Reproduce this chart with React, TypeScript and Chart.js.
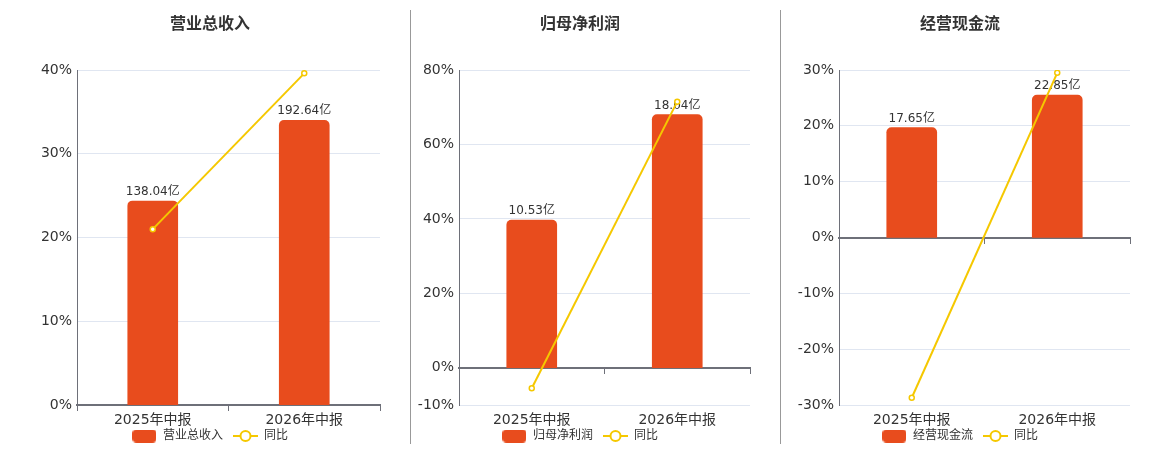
import { useEffect, useRef } from "react"
import { Chart, registerables } from "chart.js"

Chart.register(...registerables)

Chart.defaults.font.family = '"DejaVu Sans", "Noto Sans CJK SC", sans-serif'

// data
const categories = ["2025年中报", "2026年中报"]

const revenueValues = [138.04, 192.64]
const revenueGrowth = [21.0, 39.6]
const revenueTicks = [0, 10, 20, 30, 40]

const profitValues = [10.53, 18.04]
const profitGrowth = [-5.5, 71.5]
const profitTicks = [-10, 0, 20, 40, 60, 80]

const cashValues = [17.65, 22.85]
const cashGrowth = [-28.7, 29.5]
const cashTicks = [-30, -20, -10, 0, 10, 20, 30]

const ORANGE = "#e84c1d"
const YELLOW = "#f5c800"
const AXIS = "#6e7079"
const GRID = "#e0e6f1"
const TEXT = "#333"

function barIcon() {
  const c = document.createElement("canvas")
  c.width = 24
  c.height = 13
  const g = c.getContext("2d")!
  g.fillStyle = ORANGE
  g.beginPath()
  g.roundRect(0, 0, 24, 13, 4)
  g.fill()
  return c
}

function lineIcon() {
  const c = document.createElement("canvas")
  c.width = 25
  c.height = 14
  const g = c.getContext("2d")!
  g.strokeStyle = YELLOW
  g.lineWidth = 2
  g.beginPath()
  g.moveTo(0, 7)
  g.lineTo(25, 7)
  g.stroke()
  g.beginPath()
  g.arc(12.5, 7, 5, 0, Math.PI * 2)
  g.fillStyle = "#fff"
  g.fill()
  g.stroke()
  return c
}

const barLabels = {
  id: "barLabels",
  afterDatasetDraw(chart: Chart, args: { index: number }) {
    if (args.index !== 0) return
    const { ctx } = chart
    const meta = chart.getDatasetMeta(0)
    const values = chart.data.datasets[0].data as number[]
    ctx.save()
    ctx.font = '12px "DejaVu Sans", "Noto Sans CJK SC", sans-serif'
    ctx.fillStyle = TEXT
    ctx.textAlign = "center"
    ctx.textBaseline = "alphabetic"
    meta.data.forEach((el, i) => {
      ctx.fillText(values[i].toFixed(2) + "亿", el.x, el.y - 6)
    })
    ctx.restore()
  },
}

interface PanelProps {
  title: string
  barLabel: string
  bars: number[]
  growth: number[]
  ticks: number[]
  left: number
  width: number
  padLeft: number
  axisWidth: number
}

function Panel({ title, barLabel, bars, growth, ticks, left, width, padLeft, axisWidth }: PanelProps) {
  const chartRef = useRef<HTMLCanvasElement>(null)

  useEffect(() => {
    if (!chartRef.current) return
    const ctx = chartRef.current.getContext("2d")
    if (!ctx) return

    const tickMin = ticks[0]
    const tickMax = ticks[ticks.length - 1]
    const barMax = Math.max(...bars) / 0.85
    const barMin = (barMax * tickMin) / tickMax
    const icons = [barIcon(), lineIcon()]

    const chart = new Chart(ctx, {
      type: "bar",
      data: {
        labels: categories,
        datasets: [
          {
            type: "bar",
            label: barLabel,
            data: bars,
            yAxisID: "yBar",
            backgroundColor: ORANGE,
            borderRadius: 5,
            barThickness: 50,
            order: 2,
          },
          {
            type: "line",
            label: "同比",
            data: growth,
            yAxisID: "y",
            borderColor: YELLOW,
            borderWidth: 2,
            pointRadius: 2.5,
            pointBorderWidth: 1.5,
            pointBackgroundColor: "#fff",
            pointBorderColor: YELLOW,
            order: 1,
          },
        ] as any,
      },
      options: {
        responsive: true,
        maintainAspectRatio: false,
        animation: false,
        layout: { padding: { left: padLeft, right: 30, top: 0, bottom: -2 } },
        scales: {
          // reserves the room under the plot, labels come from xl
          x: {
            type: "category",
            position: "bottom",
            offset: true,
            grid: { display: false, drawTicks: false },
            border: { display: false },
            ticks: { display: false },
            afterFit: (s: any) => {
              s.height = 15
            },
          },
          xl: {
            type: "category",
            axis: "x",
            position: { y: tickMin },
            offset: true,
            grid: { display: false, drawTicks: false },
            border: { display: false },
            ticks: { padding: 7, color: TEXT, font: { size: 14 } },
          },
          xz: {
            type: "category",
            axis: "x",
            position: { y: 0 },
            offset: true,
            grid: {
              display: true,
              drawOnChartArea: false,
              drawTicks: true,
              tickLength: 5,
              offset: true,
              color: AXIS,
            },
            border: { display: true, color: AXIS, width: 2 },
            ticks: { display: false },
          },
          y: {
            position: "left",
            min: tickMin,
            max: tickMax,
            afterBuildTicks: (s: any) => {
              s.ticks = ticks.map((v) => ({ value: v }))
            },
            grid: { color: GRID, drawTicks: false },
            border: { display: true, color: AXIS, width: 1 },
            ticks: {
              padding: 5,
              color: TEXT,
              font: { size: 14 },
              callback: (v: any) => v + "%",
            },
            afterFit: (s: any) => {
              s.width = axisWidth
            },
          },
          yBar: { display: false, min: barMin, max: barMax },
        } as any,
        plugins: {
          title: {
            display: true,
            text: title,
            color: TEXT,
            font: { size: 16, weight: "bold" },
            padding: { top: 15.4, bottom: 35.4 },
          },
          legend: {
            position: "bottom",
            labels: {
              usePointStyle: true,
              pointStyleWidth: 25,
              padding: 10,
              color: TEXT,
              font: { size: 12 },
              generateLabels: (c: Chart) =>
                c.data.datasets.map((ds, i) => ({
                  text: ds.label as string,
                  pointStyle: icons[i],
                  fillStyle: "transparent",
                  strokeStyle: "transparent",
                  lineWidth: 0,
                  hidden: false,
                  datasetIndex: i,
                  fontColor: TEXT,
                })),
            },
          },
          tooltip: { enabled: false },
        },
      },
      plugins: [barLabels],
    })

    return () => {
      chart.destroy()
    }
  }, [title, barLabel, bars, growth, ticks, padLeft, axisWidth])

  return (
    <div style={{ position: "absolute", left, top: 0, width, height: 450 }}>
      <canvas ref={chartRef} />
    </div>
  )
}

export default function App() {
  return (
    <div style={{ position: "absolute", left: 0, top: 0, width: 1160, height: 450 }}>
      <Panel
        title="营业总收入"
        barLabel="营业总收入"
        bars={revenueValues}
        growth={revenueGrowth}
        ticks={revenueTicks}
        left={0}
        width={410}
        padLeft={40}
        axisWidth={37}
      />
      <Panel
        title="归母净利润"
        barLabel="归母净利润"
        bars={profitValues}
        growth={profitGrowth}
        ticks={profitTicks}
        left={410}
        width={370}
        padLeft={0}
        axisWidth={49}
      />
      <Panel
        title="经营现金流"
        barLabel="经营现金流"
        bars={cashValues}
        growth={cashGrowth}
        ticks={cashTicks}
        left={780}
        width={380}
        padLeft={10}
        axisWidth={49}
      />
      <div style={{ position: "absolute", left: 410, top: 10, width: 1, height: 434, background: "#999" }} />
      <div style={{ position: "absolute", left: 780, top: 10, width: 1, height: 434, background: "#999" }} />
    </div>
  )
}
